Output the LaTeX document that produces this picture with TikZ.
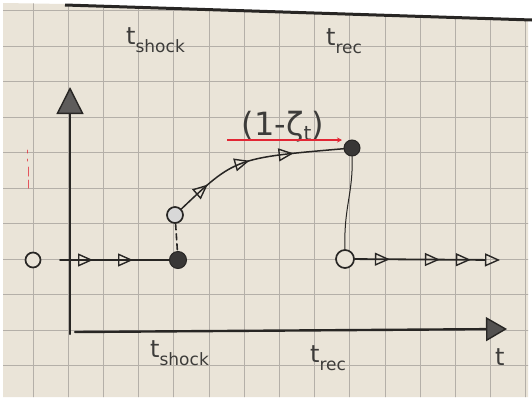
\documentclass[tikz,border=0pt]{standalone}
\usepackage{fontspec}
\setmainfont{DejaVu Sans}
\usetikzlibrary{arrows.meta,decorations.markings}
\definecolor{paper}{RGB}{234,228,216}
\definecolor{gridc}{RGB}{180,175,168}
\definecolor{pencil}{RGB}{40,38,36}
\definecolor{redpen}{RGB}{226,38,52}
\tikzset{
  flowtip/.tip={Triangle[open,length=15pt,width=13pt,line width=1.4pt]},
}
% time label: t with a lowered, nearly full-size index
\newcommand\tlabel[1]{{\fontsize{24}{24}\selectfont t}\raisebox{-8pt}{\fontsize{17}{17}\selectfont #1}}
\begin{document}
\begin{tikzpicture}[x=1pt,y=-1pt,
  pen/.style={draw=pencil,line cap=round,line join=round},
  axis/.style={pen,line width=2.4pt},
  track/.style={pen,line width=1.8pt},
  opendot/.style={circle,draw=pencil,line width=1.7pt,fill=paper,minimum size=16pt,inner sep=0pt},
  fulldot/.style={circle,draw=pencil,fill=pencil!92,line width=1pt,minimum size=17pt,inner sep=0pt},
  lbl/.style={text=pencil!90,inner sep=0pt,anchor=base west},
]
\useasboundingbox (0,0) rectangle (532,402);
% sheet of squared paper
\fill[white] (0,0) rectangle (532,402);
\fill[paper] (3,3) -- (65,4) -- (528,19) -- (528,397) -- (3,397) -- cycle;
\begin{scope}
  \clip (3,3) -- (65,4) -- (528,19) -- (528,397) -- (3,397) -- cycle;
  \foreach \k in {0,...,14} \draw[gridc,line width=0.8pt] (33+35.2*\k,0) -- (33+35.2*\k,402);
  \foreach \k in {0,...,11} \draw[gridc,line width=0.8pt] (0,10.5+35.5*\k) -- (532,10.5+35.5*\k);
\end{scope}
\draw[pencil,line width=3pt] (65,5) -- (532,20);

% axes
\coordinate (origin) at (70,334);
\coordinate (ytop) at (70,87);
\coordinate (xstart) at (75,332);
\coordinate (xend) at (507,329);
\draw[axis,-{Triangle[length=27pt,width=27pt,fill=pencil!75,line width=1.4pt]}] (origin) -- (ytop);
\draw[axis,-{Triangle[length=21pt,width=24pt,fill=pencil!80,line width=1.4pt]}] (xstart) -- (xend);

% states
\node[opendot,minimum size=15pt] (o0) at (33,260) {};
\coordinate (l0) at (60,260);
\node[fulldot] (s) at (178,260) {};
\node[opendot,fill=pencil!18] (a) at (175,215) {};
\node[fulldot,minimum size=16pt] (b) at (352,148) {};
\node[opendot,minimum size=18pt] (c) at (345,259) {};
\coordinate (cend) at (500,260);

% trajectories
\draw[track,postaction={decorate},decoration={markings,
  mark=at position 33pt with {\arrow{flowtip}},
  mark=at position 73pt with {\arrow{flowtip}}}] (l0) -- (s);
\draw[pen,line width=1.6pt,dash pattern=on 6pt off 4pt] (a) -- (s);
\draw[pen,line width=1.5pt,postaction={decorate},decoration={markings,
  mark=at position 0.2 with {\arrow{flowtip}},
  mark=at position 0.47 with {\arrow{flowtip}},
  mark=at position 0.72 with {\arrow{flowtip}}}] (a) .. controls (235,158) .. (b);
\draw[pen,line width=1pt] (b) .. controls (353,195) and (344,205) .. (c);
\draw[track,-{flowtip},postaction={decorate},decoration={markings,
  mark=at position 35pt with {\arrow{flowtip}},
  mark=at position 85pt with {\arrow{flowtip}},
  mark=at position 116pt with {\arrow{flowtip}}}] (c) -- (cend);

% annotation over the arc
\node[text=pencil!90,inner sep=0pt] (zeta) at (283,127)
  {\fontsize{32}{32}\selectfont (1-ζ\raisebox{-5pt}{\fontsize{20}{20}\selectfont t})};
\coordinate (r0) at (227,140);
\coordinate (r1) at (342,140);
\draw[redpen,line width=2pt,-{Stealth[length=5pt,width=5pt]}] (r0) -- (r1);

% faint red marks on the left
\draw[redpen,line width=1pt,opacity=0.75,line cap=round]
  (27,150) -- (27,153) (27,159) -- (27,161) (28,167) -- (28,176) (28,180) -- (28,188);

% time labels
\node[lbl] (tsTop) at (126,44) {\tlabel{shock}};
\node[lbl] (trTop) at (326,45) {\tlabel{rec}};
\node[lbl] (tsBot) at (150,357) {\tlabel{shock}};
\node[lbl] (trBot) at (310,362) {\tlabel{rec}};
\node[lbl] (tAx) at (495,365) {\fontsize{24}{24}\selectfont t};
\end{tikzpicture}
\end{document}
